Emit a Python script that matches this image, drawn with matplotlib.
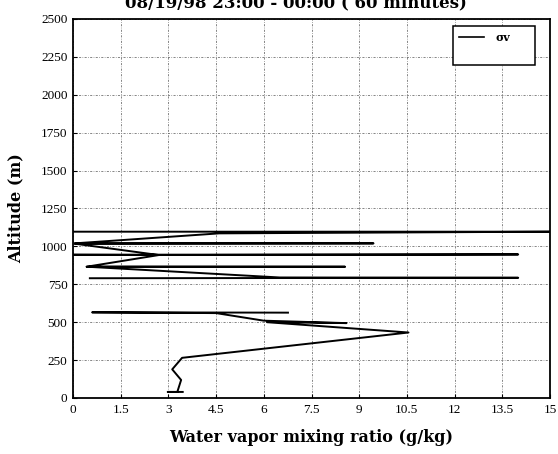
import numpy as np
import matplotlib
matplotlib.use("Agg")
import matplotlib.pyplot as plt
from matplotlib.lines import Line2D

# profile, lower part (x = mixing ratio g/kg, y = altitude m)
wv_low = [3.45, 2.98, 3.28, 3.40, 3.12, 3.43, 10.55, 6.10, 8.60, 6.00, 4.50, 0.60, 6.76]
alt_low = [40, 40, 40, 119, 189, 265, 432, 500, 494, 510, 560, 565, 563]

# profile, upper part
wv_up = [0.53, 14.0, 6.5, 0.43, 8.55, 0.43, 2.7, 0.0, 14.0, 2.7, 0.05, 9.45, 0.05, 4.6, 15.0, 0.0]
alt_up = [790, 793, 795, 866, 866, 866, 943, 945, 947, 943, 1018, 1020, 1020, 1086, 1097, 1097]

xticks = np.arange(0, 15.01, 1.5)
xticklabels = ["0", "1.5", "3", "4.5", "6", "7.5", "9", "10.5", "12", "13.5", "15"]
yticks = np.arange(0, 2501, 250)

title = "08/19/98 23:00 - 00:00 ( 60 minutes)"

fig = plt.figure(figsize=(5.58, 4.54), dpi=100)
ax = fig.add_axes([73/558, 1-398/454, 477/558, 379/454])

ax.plot(wv_low, alt_low, color="black", lw=1.4)
ax.plot(wv_up, alt_up, color="black", lw=1.4)

ax.set_xlim(0, 15)
ax.set_ylim(0, 2500)
ax.set_xticks(xticks)
ax.set_xticklabels(xticklabels)
ax.set_yticks(yticks)
ax.grid(True, color="#555555", linestyle=(0, (3, 2, 1, 2)), linewidth=0.5)
ax.tick_params(direction="in", length=3, labelsize=9.5, pad=4)
for lab in ax.get_xticklabels() + ax.get_yticklabels():
    lab.set_family("Liberation Serif")
for s in ax.spines.values():
    s.set_linewidth(1.3)

ax.set_xlabel("Water vapor mixing ratio (g/kg)", family="DejaVu Serif",
              fontweight="bold", fontsize=11.5, labelpad=10)
ax.set_ylabel("Altitude (m)", family="DejaVu Serif",
              fontweight="bold", fontsize=11.5, labelpad=12)

fig.text(0.53, 1-7/454, title, ha="center", va="baseline",
         family="DejaVu Serif", fontweight="bold", fontsize=12)

handles = [Line2D([], [], color="black", lw=1.2), Line2D([], [], color="none")]
leg = ax.legend(handles, ["σv", ""], loc="upper left", mode="expand",
                bbox_to_anchor=(453/558, 1-61/454, 82/558, 35/454),
                bbox_transform=fig.transFigure, borderaxespad=0,
                frameon=True, fancybox=False, edgecolor="black", handlelength=2.3,
                borderpad=0.5, labelspacing=0.5, handletextpad=1.0,
                prop={"family": "DejaVu Serif", "weight": "bold", "size": 8})
leg.get_frame().set_linewidth(1.1)
leg.get_frame().set_alpha(1)

fig.savefig("out.png", dpi=100)
